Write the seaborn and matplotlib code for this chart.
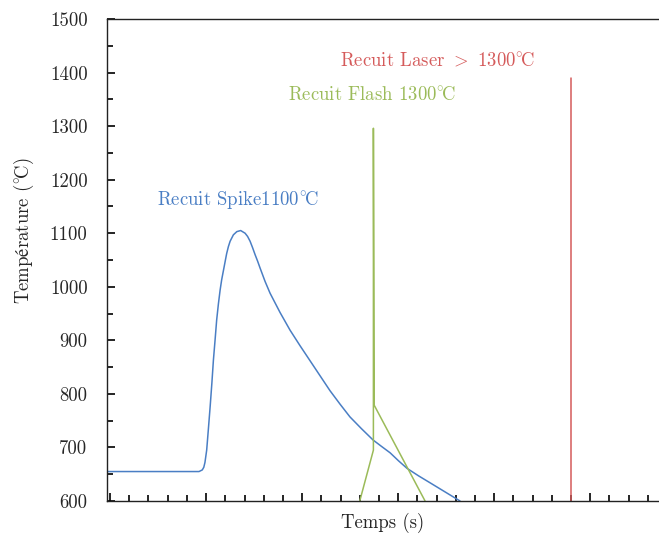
import numpy as np
import pandas as pd
import seaborn as sns
import matplotlib.pyplot as plt
from matplotlib.ticker import MultipleLocator, NullFormatter

# Recuit Spike (blue curve)
spike_t = [-0.16, 4.63, 4.80, 4.88, 4.94, 5.03, 5.12, 5.21, 5.30, 5.38, 5.47, 5.55, 5.64,
           5.73, 5.81, 5.90, 5.99, 6.07, 6.16, 6.25, 6.42, 6.60, 6.80, 7.03, 7.16,
           7.29, 7.42, 7.55, 7.68, 7.81, 8.07, 8.33, 8.85, 9.37, 9.89, 10.41,
           10.93, 11.45, 11.97, 12.49, 13.09, 13.69, 14.13, 14.58, 15.02, 15.46,
           16.06, 16.66, 17.44, 18.22]
spike_T = [655, 655, 658, 663, 672, 695, 735, 776, 820, 863, 902, 938, 968,
           994, 1013, 1030, 1047, 1062, 1075, 1085, 1097, 1103, 1105, 1100, 1094,
           1085, 1073, 1060, 1048, 1035, 1010, 988, 952, 919, 890, 862,
           834, 806, 781, 757, 735, 714, 702, 690, 675, 661,
           647, 634, 617, 600]

# Recuit Flash (green)
flash_t = [13.0, 13.71, 13.71, 13.75, 16.4]
flash_T = [600, 695, 1296, 779, 600]

# Recuit Laser (red)
laser_t = [24.0, 24.0]
laser_T = [600, 1390]

yticks = [600, 700, 800, 900, 1000, 1100, 1200, 1300, 1400, 1500]

blue = "#4a7ec4"
green = "#9bbb59"
red = "#d55b5b"

sns.set_style("ticks")
plt.rcParams['font.family'] = ['cmr10', 'DejaVu Serif']
plt.rcParams['mathtext.fontset'] = 'cm'
plt.rcParams['axes.unicode_minus'] = False

fig = plt.figure(figsize=(6.59, 5.35), dpi=100)
ax = fig.add_axes([107 / 659, 1 - 501 / 535, 1 - 107 / 659, (501 - 19) / 535])

spike = pd.DataFrame({'t': spike_t, 'T': spike_T})
flash = pd.DataFrame({'t': flash_t, 'T': flash_T})
laser = pd.DataFrame({'t': laser_t, 'T': laser_T})

sns.lineplot(data=spike, x='t', y='T', sort=False, estimator=None, color=blue, lw=1.1, ax=ax)
sns.lineplot(data=flash, x='t', y='T', sort=False, estimator=None, color=green, lw=1.1, ax=ax)
sns.lineplot(data=laser, x='t', y='T', sort=False, estimator=None, color=red, lw=1.1, ax=ax)

deg = r'$^{\circ}\!$C'
ax.text(17.05, 1423, r'Recuit Laser $>$ 1300' + deg, color=red, fontsize=13.5, ha='center', va='center')
ax.text(13.64, 1358, 'Recuit Flash 1300' + deg, color=green, fontsize=13.5, ha='center', va='center')
ax.text(6.64, 1162, 'Recuit Spike1100' + deg, color=blue, fontsize=13.5, ha='center', va='center')

ax.set_xlim(-0.16, 28.58)
ax.set_ylim(600, 1500)
ax.set_yticks(yticks)
ax.yaxis.set_minor_locator(MultipleLocator(50))
ax.xaxis.set_major_locator(MultipleLocator(5))
ax.xaxis.set_minor_locator(MultipleLocator(1))
ax.xaxis.set_major_formatter(NullFormatter())

ax.tick_params(axis='both', which='major', direction='in', length=6, width=1.2,
               color='black', labelsize=13.5, pad=14)
ax.tick_params(axis='both', which='minor', direction='in', length=4.5, width=1.2, color='black')

for s in ['left', 'bottom', 'top']:
    ax.spines[s].set_color('#222222')
    ax.spines[s].set_linewidth(1.0)
ax.spines['right'].set_visible(False)

ax.set_xlabel('Temps (s)', fontsize=13.5)
ax.set_ylabel(r'Temp$\mathrm{é}$rature (' + deg + ')', fontsize=13.5)
ax.xaxis.set_label_coords(0.5, -0.025)
ax.yaxis.set_label_coords(-0.129, 0.56)

fig.savefig("out.png", dpi=100)
